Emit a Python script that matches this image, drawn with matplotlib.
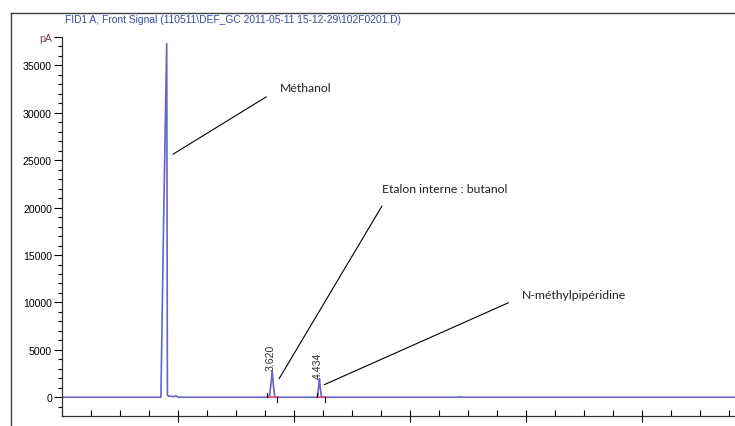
import matplotlib
matplotlib.use('Agg')
import matplotlib.pyplot as plt
from matplotlib.lines import Line2D
from matplotlib.ticker import MultipleLocator

# Signal (min, pA)
time_min = [0.0, 1.70, 1.745, 1.80, 1.806, 1.812, 1.83, 1.87, 1.93, 1.96, 1.98, 2.01,
            3.57, 3.60, 3.62, 3.64, 3.665, 4.40, 4.42, 4.434, 4.45, 4.47, 6.84, 6.86, 6.88, 11.6]
signal_pa = [0, 0, 18000, 37300, 20000, 200, 120, 100, 60, 150, 60, 0,
             0, 1500, 2750, 1200, 0, 0, 1100, 1950, 900, 0, 0, 60, 0, 0]

# Integrated peaks (retention time, start, end, label height)
peak_rt = [3.620, 4.434]
peak_top = [2750, 1950]
peak_start = [3.53, 4.40]
peak_end = [3.70, 4.535]

# Compound labels: text anchor and leader line (x0, y0) -> (x1, y1)
labels = ['Méthanol', 'Etalon interne : butanol', 'N-méthylpipéridine']
label_pos = [(3.76, 32700), (5.51, 22000), (7.92, 10840)]
leader_from = [(1.91, 25640), (3.74, 1970), (4.52, 1330)]
leader_to = [(3.515, 31680), (5.51, 20150), (7.69, 9960)]

title = 'FID1 A, Front Signal (110511\\DEF_GC 2011-05-11 15-12-29\\102F0201.D)'

plt.rcParams['font.family'] = 'Liberation Sans'

fig = plt.figure(figsize=(7.35, 4.27), dpi=100)
ax = fig.add_axes([0.0848, 0.0241, 1 - 0.0848, 0.911 - 0.0241])

ax.plot(time_min, signal_pa, color='#6464cc', lw=1.2)

for rt, top, t0, t1 in zip(peak_rt, peak_top, peak_start, peak_end):
    ax.plot([t0, t1], [0, 0], color='#e04888', lw=1.2)
    ax.plot([t0, t0], [0, 450], color='black', lw=0.8)
    ax.plot([t1, t1], [0, -500], color='black', lw=0.8)
    ax.text(rt - 0.035, top + 100, f'{rt:.3f}', rotation=90, ha='center', va='bottom',
            fontsize=7.6, color='#303030')

for lab, pos, p0, p1 in zip(labels, label_pos, leader_from, leader_to):
    ax.plot([p0[0], p1[0]], [p0[1], p1[1]], color='black', lw=0.8)
    ax.text(pos[0], pos[1], lab, ha='left', va='center', fontsize=8.8, family='Lato',
            color='#202020')

ax.set_xlim(0, 11.6)
ax.set_ylim(-1950, 38000)

ax.spines['top'].set_visible(False)
ax.spines['right'].set_visible(False)
for s in ['left', 'bottom']:
    ax.spines[s].set_color('#303030')
    ax.spines[s].set_linewidth(0.9)

ax.set_xticks([2, 4, 6, 8, 10])
ax.xaxis.set_minor_locator(MultipleLocator(0.5))
ax.tick_params(axis='x', which='major', direction='inout', length=9, width=0.8,
               labelsize=7.5, pad=3)
ax.tick_params(axis='x', which='minor', direction='in', length=4, width=0.8)

yt = [0, 5000, 10000, 15000, 20000, 25000, 30000, 35000, 38000]
ax.set_yticks(yt)
ax.set_yticklabels([str(v) for v in yt[:-1]] + ['pA'])
ax.get_yticklabels()[-1].set_color('#6a4848')
ax.yaxis.set_minor_locator(MultipleLocator(1000))
ax.tick_params(axis='y', which='major', direction='out', length=5.5, width=0.8,
               labelsize=7.6, pad=2)
ax.tick_params(axis='y', which='minor', direction='out', length=3, width=0.8)

# outer frame and header
fig.add_artist(Line2D([11 / 735, 11 / 735], [0, 1 - 14 / 427], color='#404040', lw=1))
fig.add_artist(Line2D([11 / 735, 1], [1 - 14 / 427, 1 - 14 / 427], color='#404040', lw=1))
fig.text(65 / 735, 1 - 20 / 427, title, ha='left', va='center', fontsize=7.4, color='#34509f')

fig.savefig('out.png', dpi=100)
